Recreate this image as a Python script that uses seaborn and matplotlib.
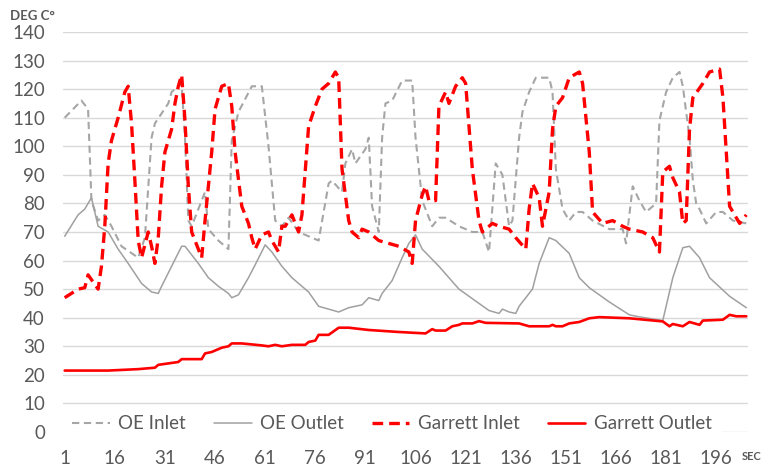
# Inlet / outlet temperatures, OE vs Garrett
import pandas as pd
import seaborn as sns
import matplotlib.pyplot as plt

# data (seconds, deg C)
oe_inlet_x = [1, 6, 8, 9, 11, 13, 15, 18, 23, 25, 27, 28, 32, 33, 36, 37, 38, 39, 42, 43, 44, 47, 50, 51, 53, 57, 60, 62, 64, 66, 68, 71, 77, 80, 81, 84, 85, 87, 88, 91, 92, 93, 95, 96, 97, 99, 102, 105, 106, 108, 111, 113, 115, 119, 123, 126, 128, 130, 132, 134, 135, 137, 138, 140, 142, 146, 147, 148, 150, 152, 154, 156, 159, 164, 168, 169, 171, 173, 175, 178, 179, 181, 183, 185, 186, 188, 189, 190, 191, 193, 196, 198, 201, 205]
oe_inlet_y = [110, 116, 113, 81, 74, 76, 72, 65, 61, 68, 103, 108, 115, 119, 122, 103, 74, 72, 81, 84, 71, 67, 64, 102, 112, 121, 121, 100, 74, 72, 75, 70, 67, 87, 88, 84, 94, 99, 94, 99, 103, 79, 70, 103, 115, 116, 123, 123, 103, 81, 72, 75, 75, 72, 70, 70, 63, 94, 90, 72, 74, 103, 112, 119, 124, 124, 119, 92, 78, 74, 77, 77, 74, 71, 71, 66, 86, 81, 77, 80, 109, 119, 124, 126, 121, 103, 88, 80, 78, 73, 77, 77, 74, 73]

oe_outlet_x = [1, 5, 7, 9, 11, 14, 17, 20, 24, 27, 29, 30, 33, 36, 37, 41, 44, 47, 50, 51, 53, 56, 58, 61, 63, 66, 69, 74, 77, 83, 86, 90, 92, 95, 96, 99, 102, 104, 106, 108, 113, 119, 125, 128, 131, 132, 134, 136, 137, 141, 143, 146, 148, 152, 155, 158, 164, 170, 173, 180, 183, 186, 188, 191, 194, 200, 205]
oe_outlet_y = [68.5, 76, 78, 82, 72, 70, 64, 59, 52, 49, 48.5, 51, 58, 65, 65, 59, 54, 51, 48.5, 47, 48, 54, 58.5, 65.5, 63, 58, 54, 49, 44, 42, 43.5, 44.5, 47, 46, 48.5, 53, 61, 66, 69, 64, 58, 50, 45, 42.5, 41.5, 43, 42, 41.5, 44, 50, 59, 68, 67, 62.5, 54, 50.5, 45.5, 41, 40.3, 39, 54, 64.5, 65, 61, 54, 47.5, 43.5]

garrett_inlet_x = [1, 5, 7, 8, 11, 12, 13, 14, 15, 17, 19, 20, 21, 22, 23, 24, 26, 27, 28, 29, 30, 31, 33, 34, 35, 36, 37, 38, 39, 41, 42, 43, 45, 46, 48, 50, 51, 52, 54, 56, 57, 58, 60, 62, 63, 65, 66, 67, 69, 71, 72, 74, 76, 78, 80, 82, 83, 84, 86, 87, 89, 90, 92, 95, 98, 101, 104, 105, 106, 108, 109, 110, 112, 113, 115, 116, 118, 120, 121, 123, 125, 126, 129, 131, 134, 136, 139, 140, 141, 143, 144, 145, 146, 147, 148, 150, 152, 155, 156, 158, 159, 162, 165, 168, 170, 174, 177, 179, 180, 182, 183, 185, 186, 187, 188, 189, 192, 194, 197, 198, 200, 201, 203, 205]
garrett_inlet_y = [47, 50, 50.5, 55, 50, 58, 72, 94, 102, 110, 119, 121, 108, 88, 67, 61, 70, 65, 59, 68, 86, 98, 106, 115, 121, 125, 109, 86, 70, 64, 61, 74, 98, 113, 121, 122, 114, 98, 79, 73, 68, 64, 69, 70, 67, 63, 72, 72, 76, 70, 76, 107, 114, 120, 122, 126, 124, 92, 74, 70, 68, 71, 70, 67, 66, 65, 63, 59, 74, 83, 86, 81, 81, 114, 119, 115, 121, 124, 122, 92, 74, 70, 73, 72, 71, 68, 64, 78, 87, 82, 72, 78, 84, 106, 114, 117, 124, 126, 122, 98, 77, 73, 74, 72, 71, 70, 68, 63, 91, 93, 89, 84, 73, 74, 106, 117, 122, 126, 127, 117, 79, 77, 73, 76]

garrett_outlet_x = [1, 14, 23, 28, 29, 32, 35, 36, 42, 43, 45, 48, 50, 51, 54, 60, 62, 64, 66, 69, 73, 74, 76, 77, 80, 83, 86, 92, 101, 109, 111, 112, 115, 117, 119, 120, 123, 125, 127, 137, 140, 146, 147, 148, 150, 152, 155, 158, 161, 170, 180, 182, 183, 186, 188, 191, 192, 198, 200, 202, 205]
garrett_outlet_y = [21.5, 21.5, 22, 22.5, 23.5, 24, 24.5, 25.5, 25.5, 27.5, 28, 29.5, 30, 31, 31, 30.3, 30, 30.5, 30, 30.5, 30.5, 31.5, 32, 34, 34, 36.5, 36.5, 35.7, 35, 34.5, 36, 35.5, 35.5, 37, 37.5, 38, 38, 38.8, 38.2, 38, 37, 37, 37.5, 37, 37, 38, 38.5, 39.8, 40.2, 39.8, 38.7, 37, 37.8, 37, 38.5, 37.5, 39, 39.3, 41, 40.5, 40.5]

x_ticks = list(range(1, 197, 15))
y_ticks = list(range(0, 141, 10))

sns.set_style("white")
plt.rcParams['font.family'] = ['Lato', 'DejaVu Sans']

fig = plt.figure(figsize=(7.82, 4.69), dpi=100)
ax = fig.add_axes([0.0806, 0.0789, 0.9565 - 0.0806, 0.9318 - 0.0789])

grey = '#a6a6a6'
red = '#ff0000'
sns.lineplot(x=oe_inlet_x, y=oe_inlet_y, ax=ax, color=grey, lw=1.5,
             linestyle=(0, (3.5, 2.2)), estimator=None, label='OE Inlet')
sns.lineplot(x=oe_outlet_x, y=oe_outlet_y, ax=ax, color='#a0a0a0', lw=1.1,
             estimator=None, label='OE Outlet')
sns.lineplot(x=garrett_inlet_x, y=garrett_inlet_y, ax=ax, color=red, lw=2.4,
             linestyle=(0, (3.2, 1.8)), estimator=None, label='Garrett Inlet')
sns.lineplot(x=garrett_outlet_x, y=garrett_outlet_y, ax=ax, color=red, lw=1.9,
             estimator=None, label='Garrett Outlet')

ax.set_xlim(0.5, 205.5)
ax.set_ylim(0, 140)
ax.set_xticks(x_ticks)
ax.set_yticks(y_ticks)
ax.grid(axis='y', color='#d9d9d9', lw=1)
ax.set_axisbelow(True)
for s in ax.spines.values():
    s.set_visible(False)
ax.tick_params(length=0, labelsize=13.5, colors='#595959')
ax.tick_params(axis='y', pad=13)
ax.tick_params(axis='x', pad=13)
ax.set_xlabel('')
ax.set_ylabel('')

leg = ax.legend(loc='center left', bbox_to_anchor=(0.0, 0.02), ncol=4,
                frameon=True, facecolor='white', edgecolor='white', framealpha=1,
                fontsize=13.5, handlelength=2.0, columnspacing=1.5, handletextpad=0.45,
                borderaxespad=0, borderpad=0.5)
for t in leg.get_texts():
    t.set_color('#595959')
leg.set_zorder(5)

fig.text(0.013, 0.966, 'DEG C°', fontsize=9.5, fontweight='bold', color='#595959', va='center')
fig.text(0.948, 0.026, 'SEC', fontsize=8, fontweight='bold', color='#595959', va='center')

fig.savefig('out.png', dpi=100)
